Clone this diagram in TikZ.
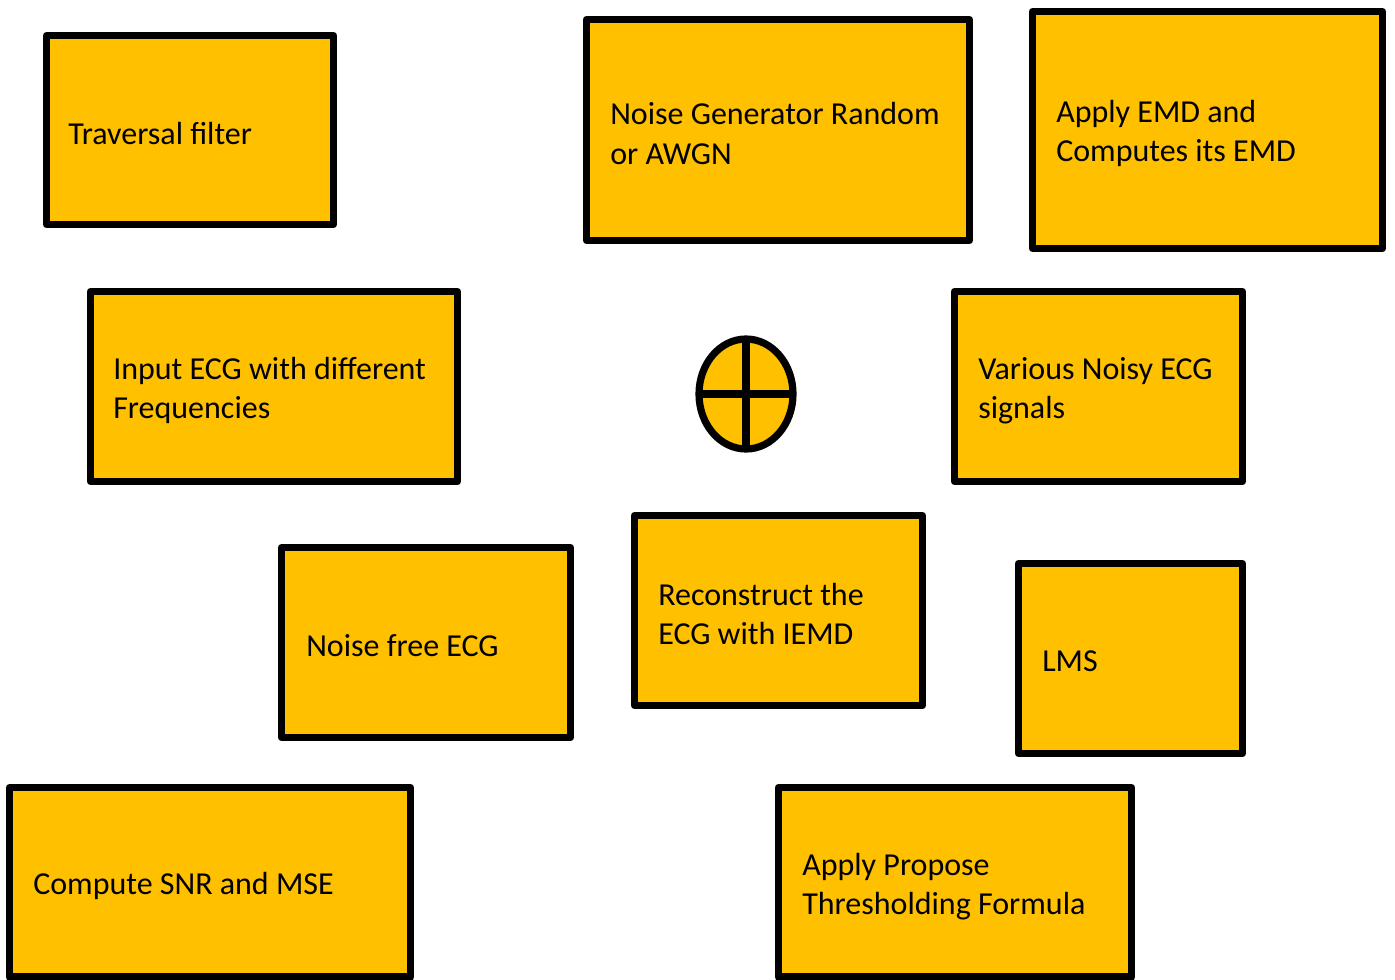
\documentclass[tikz,border=0pt]{standalone}
\usepackage{fontspec}
\setmainfont{Carlito}
\definecolor{boxfill}{HTML}{FFC000}
\begin{document}
\begin{tikzpicture}[x=0.75pt,y=-0.75pt,
  blk/.style={draw=black,fill=boxfill,line width=5.4pt,line join=round},
  lbl/.style={anchor=west,align=left,inner sep=0pt,font=\fontsize{24}{29.5}\selectfont}]
\useasboundingbox (0,0) rectangle (1395,979);
\begin{scope}
\clip (0,0) rectangle (1395,979);
\draw[blk] (46.5,35.5) rectangle (333.5,224.5);
\draw[blk] (586.5,19.5) rectangle (969.5,240.5);
\draw[blk] (1032.5,11.5) rectangle (1382.5,248.5);
\draw[blk] (90.5,291.5) rectangle (457.5,481.5);
\draw[blk] (954.5,291.5) rectangle (1242.5,481.5);
\draw[blk] (281.5,547.5) rectangle (570.5,737.5);
\draw[blk] (634.5,515.5) rectangle (922.5,705.5);
\draw[blk] (1018.5,563.5) rectangle (1242.5,753.5);
\draw[blk] (9.5,787.5) rectangle (410.5,977);
\draw[blk] (778.5,787.5) rectangle (1131.5,977);
\draw[blk] (746,394) ellipse [x radius=47, y radius=55];
\draw[line width=5.4pt] (746,339) -- (746,449) (699,394) -- (793,394);
\end{scope}
\node[lbl] (t1) at (68,133.5) {Traversal filter};
\node[lbl] (t2) at (610,133.5) {Noise Generator Random\\or AWGN};
\node[lbl] (t3) at (1056,133.5) {Apply EMD and\\Computes its EMD};
\node[lbl] (t4) at (113,390.5) {Input ECG with different\\Frequencies};
\node[lbl] (t6) at (978,390.5) {Various Noisy ECG\\signals};
\node[lbl] (t7) at (306,645.5) {Noise free ECG};
\node[lbl] (t8) at (658,614) {Reconstruct the\\ECG with IEMD};
\node[lbl] (t9) at (1042,661.5) {LMS};
\node[lbl] (t10) at (33,886) {Compute SNR and MSE};
\node[lbl] (t11) at (802,886.5) {Apply Propose\\Thresholding Formula};
\end{tikzpicture}
\end{document}
